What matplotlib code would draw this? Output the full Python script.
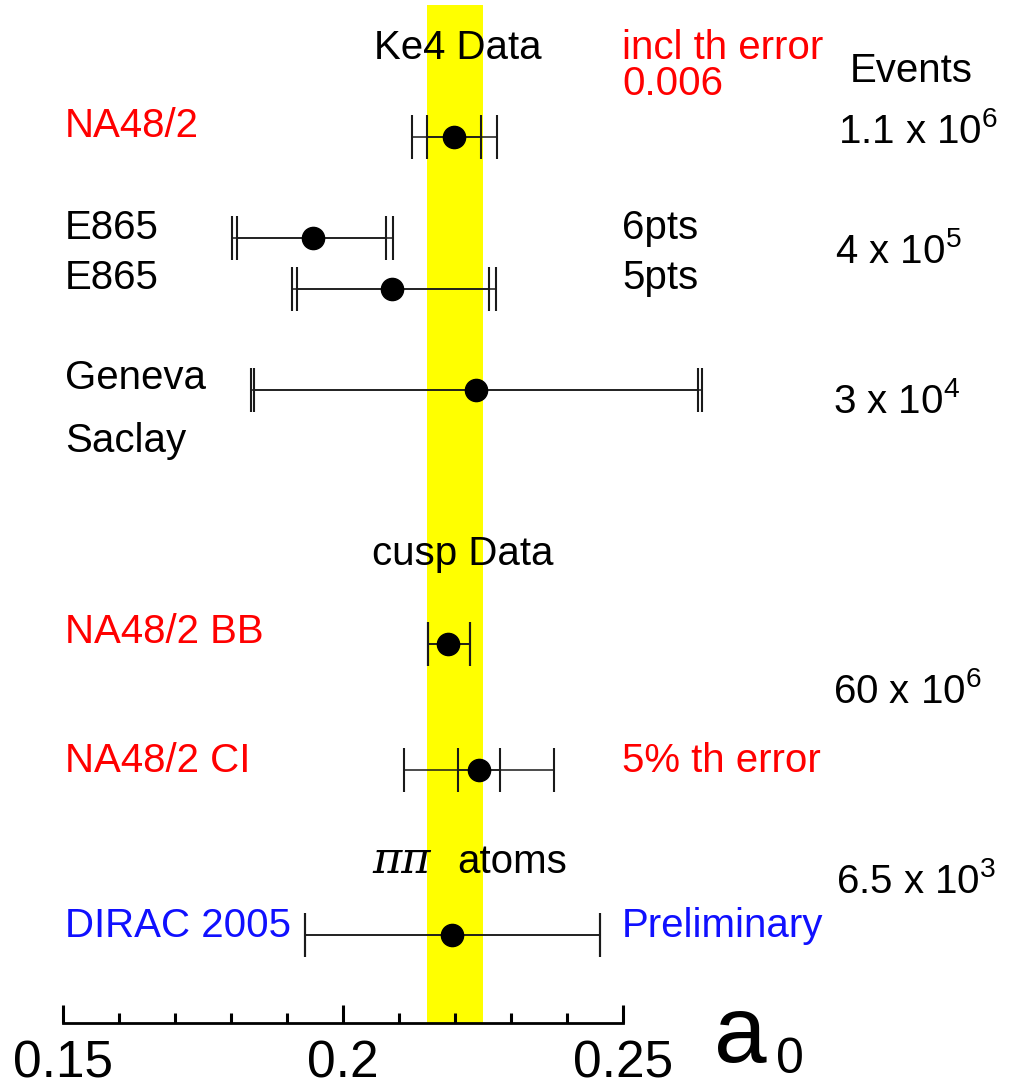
import matplotlib
matplotlib.use("Agg")
import matplotlib.pyplot as plt
from matplotlib.ticker import FixedLocator, FixedFormatter
from matplotlib.transforms import blended_transform_factory

plt.rcParams['font.family'] = ['Liberation Sans', 'DejaVu Sans']
plt.rcParams['mathtext.default'] = 'regular'

# measurements of a0 (pi-pi scattering length)
a0 = [0.2198, 0.1946, 0.2088, 0.2238, 0.2188, 0.2243, 0.2195]
# inner (stat) errors, lower / upper
stat_lo = [0.0048, 0.0135, 0.0170, 0.0397, 0.0036, 0.0038, 0.0263]
stat_hi = [0.0048, 0.0131, 0.0173, 0.0396, 0.0039, 0.0037, 0.0264]
# outer (total) errors, lower / upper
tot_lo = [0.0075, 0.0144, 0.0179, 0.0402, 0.0036, 0.0134, 0.0263]
tot_hi = [0.0077, 0.0143, 0.0185, 0.0403, 0.0039, 0.0134, 0.0264]
# theory band
band = [0.215, 0.225]
major_ticks = [0.15, 0.20, 0.25]
major_labels = ['0.15', '0.2', '0.25']
minor_ticks = [0.16, 0.17, 0.18, 0.19, 0.21, 0.22, 0.23, 0.24]

# layout: row positions (pixel rows from top)
rows = [137, 238, 289, 390, 644, 770, 935]

W, H = 1011, 1087
fig = plt.figure(figsize=(W / 100, H / 100), dpi=100)
axis_row = 1023
ax = fig.add_axes([0, (H - axis_row) / H, 1, axis_row / H])
ax.set_xlim(0.15 - 63 / 5600, 0.15 + (W - 63) / 5600)
ax.set_ylim(axis_row, 0)

ax.axvspan(band[0], band[1], ymin=0, ymax=1 - 5 / axis_row, color='#ffff00', lw=0, zorder=0)

ekw = dict(fmt='none', ecolor='#1a1a1a', elinewidth=1.1, capsize=16, capthick=1.5, zorder=3)
ax.errorbar(a0, rows, xerr=[tot_lo, tot_hi], **ekw)
ax.errorbar(a0, rows, xerr=[stat_lo, stat_hi], **ekw)
ax.plot(a0, rows, 'o', color='black', ms=16, zorder=4)

# axis styling
for s in ['top', 'left', 'right']:
    ax.spines[s].set_visible(False)
ax.spines['bottom'].set_bounds(0.15, 0.25)
ax.spines['bottom'].set_linewidth(2.0)
ax.spines['bottom'].set_zorder(5)
ax.xaxis.set_major_locator(FixedLocator(major_ticks))
ax.xaxis.set_major_formatter(FixedFormatter(major_labels))
ax.xaxis.set_minor_locator(FixedLocator(minor_ticks))
ax.tick_params(axis='x', which='major', direction='in', length=13, width=2.2,
               labelsize=37, pad=12)
ax.tick_params(axis='x', which='minor', direction='in', length=7, width=2.2)
ax.set_yticks([])
ax.patch.set_visible(False)

tr = blended_transform_factory(ax.transAxes, ax.transData)


def label(xpix, ypix, s, color='black', ha='left', size=29, **kw):
    ax.text(xpix / W, ypix, s, transform=tr, color=color, ha=ha, va='baseline',
            fontsize=size, clip_on=False, **kw)


red = '#ff0000'
blue = '#1010ff'

label(458, 59, 'Ke4 Data', ha='center')
label(622, 59, 'incl th error', red)
label(622, 95, '0.006', red)
label(850, 82, 'Events')
label(65, 137, 'NA48/2', red)
label(838, 143, '1.1 x 10$^6$')
label(65, 239, 'E865')
label(65, 289, 'E865')
label(622, 239, '6pts')
label(622, 289, '5pts')
label(835, 263, '4 x 10$^5$')
label(65, 389, 'Geneva')
label(65, 452, 'Saclay')
label(833, 413, '3 x 10$^4$')
label(463, 565, 'cusp Data', ha='center')
label(65, 643, 'NA48/2 BB', red)
label(833, 703, '60 x 10$^6$')
label(65, 772, 'NA48/2 CI', red)
label(622, 772, '5% th error', red)
ax.text(372 / W, 873, '\u03c0\u03c0', transform=tr, ha='left', va='baseline', fontsize=32,
        family='DejaVu Serif', style='italic')
label(457, 873, 'atoms')
label(836, 893, '6.5 x 10$^3$')
label(65, 937, 'DIRAC 2005', blue)
label(622, 937, 'Preliminary', blue)
label(714, 1062, 'a', size=68)
label(776, 1073, '0', size=36)

fig.savefig('out.png', dpi=100)
